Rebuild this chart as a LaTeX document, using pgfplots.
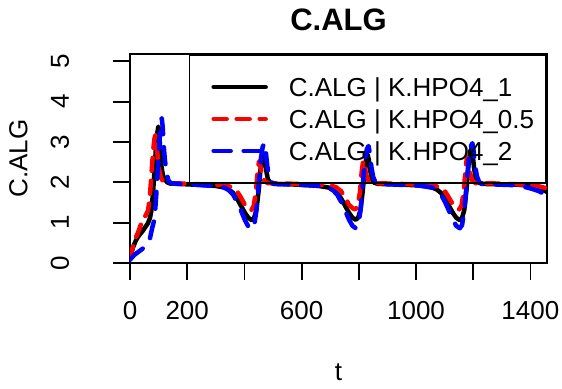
\documentclass[border=0pt]{standalone}
\usepackage{fontspec}
\setmainfont{Liberation Sans}
\usepackage{pgfplots}
\pgfplotsset{compat=1.18}
\begin{document}
\begin{tikzpicture}[font=\fontsize{26bp}{31bp}\selectfont]
\path[use as bounding box] (-130bp,-126bp) rectangle (432bp,263bp);
\begin{axis}[
  at={(0,0)}, anchor=south west,
  scale only axis, width=417bp, height=209bp,
  xmin=0, xmax=1458, ymin=0, ymax=5.18,
  axis line style={line width=1.8bp},
  tick style={line width=1.8bp, black},
  major tick length=17bp,
  tick align=outside,
  tick pos=left,
  xtick={0,200,...,1400}, xticklabels={0,200,,600,,1000,,1400},
  ytick={0,1,2,3,4,5}, yticklabels={0,1,2,3,4,5},
  xticklabel style={anchor=base, inner sep=0pt},
  xticklabel shift=39bp,
  yticklabel style={rotate=90, anchor=base, inner sep=0pt},
  yticklabel shift=44bp,
  title={C.ALG},
  title style={at={(axis description cs:0.5,1)}, anchor=base, yshift=18bp, font=\bfseries\fontsize{31bp}{37bp}\selectfont},
  xlabel={t},
  xlabel style={at={(axis description cs:0.5,0)}, anchor=base, yshift=-117bp},
  ylabel={C.ALG},
  ylabel style={at={(axis description cs:-0.2463,0.5)}, anchor=base},
  legend image code/.code={\path (0bp,0bp) (83bp,0bp); \draw[#1] (10bp,0bp) -- (62bp,0bp);},
  legend cell align=left,
  legend style={at={(1,1)}, anchor=north east, draw=black, line width=1.8bp, fill=none,
    inner xsep=12bp, inner ysep=16bp, row sep=0pt, column sep=0pt,
    nodes={inner sep=0pt, text height=26bp, text depth=6bp}},
]
\addplot[black, line width=4.5bp, line join=round, line cap=round] coordinates {
(0,0.10) (10,0.38) (20,0.55) (28,0.65) (45,0.80) (63,0.99) (70,1.12) (75,1.31) (80,1.70) (86,2.30) (91,2.90) (95,3.20) (99,3.38) (102,3.28) (106,2.78) (110,2.39) (115,2.18) (121,2.08) (130,2.00) (140,1.97)
(200,1.95) (260,1.93) (300,1.91) (330,1.87) (346,1.82) (360,1.74) (374,1.60) (388,1.42) (402,1.24) (414,1.12) (426,1.06) (434,1.12) (442,1.32) (450,1.80) (456,2.30) (462,2.62) (467,2.72) (471,2.60) (476,2.30) (482,2.08) (490,1.99) (504,1.96)
(560,1.95) (620,1.93) (660,1.91) (694,1.87) (710,1.82) (724,1.74) (738,1.60) (752,1.42) (766,1.24) (778,1.12) (790,1.07) (798,1.13) (806,1.32) (814,1.80) (820,2.28) (826,2.60) (831,2.68) (835,2.56) (840,2.28) (846,2.07) (854,1.99) (868,1.96)
(930,1.95) (990,1.93) (1025,1.91) (1057,1.87) (1073,1.82) (1087,1.74) (1101,1.60) (1115,1.42) (1129,1.24) (1141,1.12) (1153,1.06) (1161,1.12) (1169,1.32) (1177,1.85) (1183,2.40) (1189,2.75) (1194,2.85) (1198,2.70) (1203,2.35) (1209,2.10) (1217,2.00) (1231,1.96)
(1300,1.95) (1360,1.94) (1400,1.91) (1430,1.86) (1458,1.76)
};
\addlegendentry{C.ALG | K.HPO4\_1}
\addplot[red, line width=4.5bp, line join=round, line cap=round, dash pattern=on 13bp off 10bp] coordinates {
(0,0.10) (8,0.35) (20,0.62) (31,0.81) (45,1.10) (55,1.18) (63,1.30) (69,1.60) (75,2.20) (81,2.80) (86,3.10) (89,3.17) (92,3.05) (96,2.70) (101,2.35) (108,2.12) (116,2.02) (128,1.98)
(180,1.97) (250,1.95) (300,1.94) (330,1.93) (356,1.88) (374,1.78) (388,1.62) (402,1.44) (416,1.33) (424,1.31) (432,1.40) (440,1.75) (446,2.25) (451,2.52) (456,2.40) (462,2.18) (470,2.03) (482,1.98)
(540,1.97) (620,1.95) (694,1.93) (720,1.88) (738,1.78) (752,1.62) (766,1.44) (780,1.35) (788,1.33) (796,1.42) (804,1.76) (810,2.25) (815,2.53) (820,2.42) (826,2.18) (834,2.03) (846,1.98)
(900,1.97) (990,1.95) (1057,1.93) (1083,1.88) (1101,1.78) (1115,1.62) (1129,1.45) (1143,1.36) (1151,1.33) (1159,1.42) (1167,1.78) (1173,2.30) (1178,2.62) (1183,2.50) (1189,2.22) (1197,2.04) (1209,1.98)
(1280,1.97) (1360,1.95) (1400,1.93) (1430,1.90) (1458,1.85)
};
\addlegendentry{C.ALG | K.HPO4\_0.5}
\addplot[blue, line width=4.5bp, line join=round, line cap=round, dash pattern=on 17bp off 13bp] coordinates {
(0,0.08) (15,0.20) (30,0.28) (45,0.36) (55,0.42) (62,0.48) (70,0.62) (78,0.88) (86,1.10) (92,1.70) (98,2.40) (104,3.10) (108,3.50) (111,3.59) (114,3.40) (118,2.90) (122,2.55) (128,2.25) (134,2.05) (142,1.98)
(170,1.96) (230,1.94) (290,1.91) (330,1.87) (346,1.80) (360,1.70) (374,1.52) (388,1.30) (402,1.06) (414,0.90) (426,0.84) (434,0.92) (442,1.30) (450,1.95) (458,2.60) (464,2.88) (470,2.97) (475,2.75) (480,2.40) (486,2.15) (494,2.00) (506,1.96)
(580,1.94) (650,1.92) (694,1.87) (710,1.80) (724,1.70) (738,1.52) (752,1.30) (766,1.07) (778,0.92) (790,0.86) (798,0.94) (806,1.30) (814,1.95) (822,2.58) (828,2.82) (834,2.90) (839,2.70) (844,2.38) (850,2.14) (858,2.00) (870,1.96)
(940,1.94) (1010,1.92) (1057,1.87) (1073,1.80) (1087,1.70) (1101,1.52) (1115,1.30) (1129,1.07) (1141,0.92) (1153,0.86) (1161,0.94) (1169,1.30) (1177,1.95) (1185,2.62) (1191,2.88) (1197,2.97) (1202,2.75) (1207,2.40) (1213,2.15) (1221,2.00) (1233,1.96)
(1300,1.94) (1340,1.93) (1370,1.90) (1400,1.85) (1430,1.78) (1458,1.67)
};
\addlegendentry{C.ALG | K.HPO4\_2}
\end{axis}
\end{tikzpicture}
\end{document}
